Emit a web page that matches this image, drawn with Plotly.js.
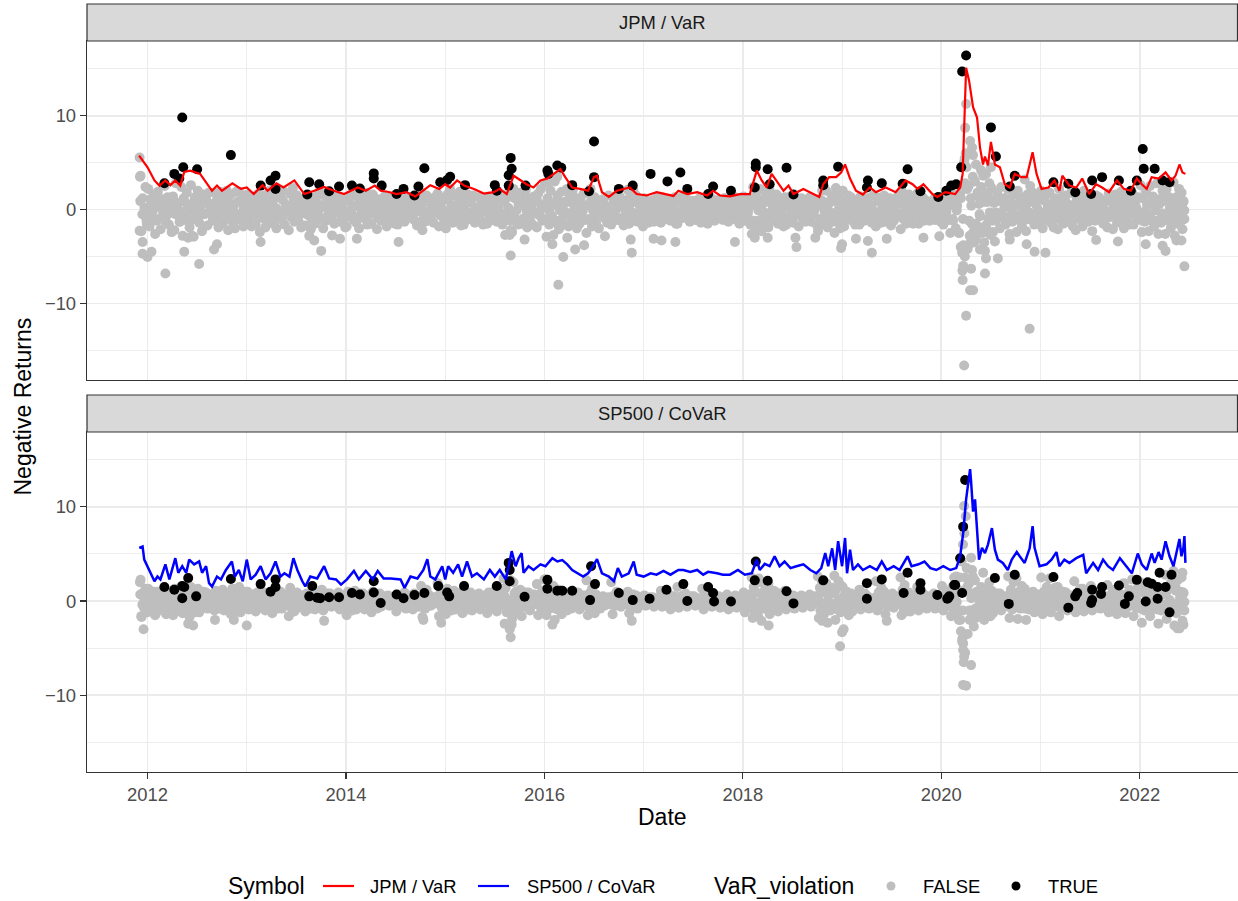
<!DOCTYPE html>
<html><head><meta charset="utf-8">
<script src="https://cdn.plot.ly/plotly-3.0.1.min.js"></script>
<style>html,body{margin:0;padding:0;background:#fff}#chart{width:1238px;height:901px}</style>
</head><body><div id="chart"></div>
<script>
// ---------- DATA ----------
const panelTitles = ["JPM / VaR", "SP500 / CoVaR"];
const xTickYears = [2012, 2014, 2016, 2018, 2020, 2022];
const yTickVals = [-10, 0, 10];
const firstMonthStart = 2011 + 11/12;   // December 2011
const lastMonthFraction = 0.45;         // data ends mid June 2022

// JPM negative returns, non-violations, grouped by month (Dec 2011 ... Jun 2022)
const jpmGreyByMonth = [
[3.5,-2.3,1.2,-0.6,2.4,-1.5],
[2.2,-1.8,0.6,-0.9,1.5,-2.6],[-1.2,1.9,0.3,-2.1,1.1,-0.4],[2.5,-0.7,1.3,-1.6,0.2,-2.4],[1.4,-2.2,2.8,-0.3,0.7,-1.3],[2.4,-2.8,0.9,-1.1,1.8,-0.2],[-1.9,2.6,0.1,-2.9,1.3,-0.8],[2.0,-1.4,0.5,-2.3,1.6,-0.5],[1.1,-1.7,1.8,-0.2,0.6,-1.0],[1.8,-0.9,0.3,-1.9,1.9,-0.4],[-1.5,1.2,-0.3,2.0,-2.2,0.7],[1.6,-1.3,0.4,-2.0,1.9,-0.6],[1.9,-1.1,0.9,-1.8,0.1,1.4],
[1.6,-1.0,0.5,-1.8,1.2,-0.3],[-1.6,1.6,0.2,-2.4,1.0,-0.7],[1.5,-1.9,0.6,-0.4,2.0,-1.2],[1.8,-1.5,0.1,-2.0,1.3,-0.6],[1.4,-0.9,2.0,-1.6,0.4,-0.1],[-2.2,1.7,-0.5,2.3,-1.3,0.6],[1.5,-1.2,0.3,-1.9,1.0,-0.4],[-1.7,1.4,-0.6,0.9,-2.1,0.2],[1.3,-1.5,0.7,-0.2,1.9,-1.0],[1.6,-2.0,0.4,-1.2,1.8,-0.5],[1.2,-0.8,0.2,-1.5,1.4,-0.3],[1.3,-1.3,0.6,-0.4,1.0,-1.9],
[-1.8,1.1,-0.5,1.6,0.2,-1.1],[1.5,-1.4,0.4,-2.0,0.9,-0.3],[1.3,-0.9,1.8,-1.6,0.1,-0.5],[-1.5,1.6,-0.2,0.8,-2.1,0.4],[1.1,-1.2,0.3,-0.6,1.5,-1.8],[0.9,-1.0,1.4,-0.3,0.5,-1.5],[1.2,-1.6,0.2,-0.8,1.3,-0.4],[-1.3,1.0,-0.1,1.2,-0.7,0.6],[1.4,-1.1,0.5,-1.7,0.9,-0.2],[1.8,-2.2,0.8,-1.3,1.5,-0.6],[1.0,-0.9,0.3,-1.4,1.3,-0.2],[1.7,-1.8,0.6,-0.7,1.2,-1.2],
[-2.0,1.6,-0.8,2.2,0.3,-1.4],[1.5,-1.2,0.4,-0.5,1.9,-1.7],[1.2,-1.6,0.7,-0.3,1.6,-1.0],[1.0,-0.8,1.5,-1.4,0.2,-0.4],[1.3,-1.1,0.5,-1.6,0.9,-0.2],[-1.5,1.4,-0.4,0.8,-1.1,0.3],[1.1,-1.3,0.2,-0.7,1.5,-1.6],[1.5,-2.7,1.2,-1.0,2.0,-2.2],[-2.4,2.2,-0.9,1.4,-1.6,0.6],[1.8,-1.5,0.6,-0.9,2.1,-1.9],[1.2,-1.0,0.4,-1.6,1.4,-0.3],[-1.9,1.7,-0.6,2.2,-1.2,0.5],
[2.8,-2.9,1.1,-1.6,2.0,-0.7],[-2.7,3.0,-1.4,1.5,-2.1,0.4],[1.9,-1.6,0.8,-0.5,2.2,-1.8],[1.5,-1.3,2.0,-0.6,0.5,-2.0],[1.2,-1.5,0.3,-0.8,1.7,-1.1],[-2.5,1.8,-1.0,2.2,-1.8,0.4],[1.3,-1.4,0.6,-2.0,1.0,-0.3],[1.1,-0.9,0.4,-1.4,1.5,-0.5],[-1.6,1.3,-0.5,1.4,-1.1,0.3],[1.4,-1.2,0.8,-1.7,0.5,-0.2],[2.1,-1.5,1.6,-0.6,2.1,-1.0],[1.5,-1.3,0.6,-0.5,1.1,-1.8],
[1.2,-1.0,0.4,-1.4,0.8,-0.2],[1.0,-1.3,0.5,-0.6,1.4,-0.9],[-1.4,1.3,-0.3,0.8,-1.0,0.2],[1.1,-1.2,0.3,-0.7,1.3,-1.5],[-1.5,1.0,-0.4,1.3,-0.9,0.5],[1.3,-0.8,0.6,-1.3,0.9,-0.3],[0.9,-1.1,0.3,-0.5,1.2,-1.4],[-1.2,1.1,-0.6,0.7,-1.5,0.2],[1.3,-1.0,0.5,-1.2,1.0,-0.3],[1.0,-0.9,0.2,-1.1,1.2,-0.5],[1.2,-1.3,0.6,-0.4,0.9,-0.8],[1.3,-1.1,0.4,-1.5,1.1,-0.2],
[1.4,-1.2,0.7,-0.5,1.2,-1.6],[-2.6,2.4,-1.3,1.5,-2.0,0.6],[2.2,-2.3,1.0,-1.4,1.8,-0.7],[-1.9,2.0,-0.7,1.3,-1.2,0.4],[1.6,-1.5,0.5,-0.9,1.2,-1.8],[1.3,-1.6,0.4,-0.7,1.4,-1.1],[-1.4,1.3,-0.3,0.8,-1.8,0.3],[1.2,-1.0,0.5,-1.3,0.9,-0.4],[1.3,-1.3,0.6,-0.5,1.1,-1.6],[-2.3,1.1,-1.0,2.0,-1.6,0.5],[2.0,-1.9,0.8,-0.9,1.5,-1.3],[-2.5,2.3,-1.2,1.6,-2.0,0.6],
[2.0,-1.8,0.7,-1.0,1.5,-0.4],[1.3,-1.2,0.4,-1.6,1.0,-0.3],[-1.6,1.4,-0.5,0.9,-1.2,0.3],[1.2,-1.0,0.5,-1.4,1.5,-0.4],[-1.8,1.3,-0.7,1.0,-1.4,0.2],[1.5,-1.3,0.6,-0.6,1.2,-1.7],[1.1,-1.2,0.3,-0.8,1.4,-0.5],[-2.1,1.9,-1.0,1.3,-1.5,0.4],[1.6,-1.1,0.6,-1.5,1.0,-0.3],[1.7,-1.5,0.5,-0.9,1.3,-1.2],[1.0,-0.9,0.3,-1.2,0.8,-0.2],[1.1,-1.1,0.5,-0.5,0.9,-1.3],
[1.3,-1.6,0.4,-0.8,1.0,-1.1],[-2.5,1.8,-1.2,1.0,-2.0,0.4],[1.5,-2.5,1.2,-4.0,2.0,-6.5,-3.8,5.0,-5.0,6.0],[4.5,-4.2,2.5,-2.8,1.2,-1.5,3.5,-3.5],[3.0,-3.2,1.5,-1.8,0.6,-0.7,2.4,-2.5],[3.6,-3.5,1.8,-2.0,0.8,-1.0,2.8,-2.7],[2.3,-2.4,1.0,-1.2,1.8,-0.4],[-2.0,2.4,-0.9,1.2,-1.6,0.5],[2.1,-2.6,0.8,-1.3,1.6,-0.6],[-2.4,2.0,-1.0,1.3,-1.8,0.4],[3.2,-2.3,1.6,-1.0,2.5,-0.5],[1.8,-1.6,0.6,-0.8,1.3,-1.3],
[2.0,-2.0,1.0,-1.1,1.6,-0.4],[1.8,-1.4,0.6,-1.9,1.2,-0.5],[-2.1,2.2,-0.9,1.3,-1.5,0.4],[1.5,-1.3,0.5,-0.7,1.9,-1.8],[1.7,-2.2,0.6,-1.0,1.2,-0.3],[-1.8,2.0,-0.6,1.1,-1.3,0.3],[1.5,-2.3,0.7,-1.2,1.5,-0.5],[1.3,-1.1,0.4,-1.5,0.9,-0.2],[-1.9,1.7,-0.8,1.0,-2.1,0.3],[1.6,-1.4,0.6,-0.6,1.9,-1.1],[-2.0,1.5,-0.9,1.1,-1.6,0.4],[1.8,-1.6,0.7,-1.0,1.3,-0.4],
[2.6,-2.4,1.2,-1.3,1.9,-0.5],[-2.3,2.5,-1.0,1.4,-1.8,0.6],[2.8,-2.6,1.1,-1.4,2.0,-0.6],[-2.6,2.2,-1.2,1.3,-2.0,0.5],[2.9,-2.8,1.3,-1.5,2.2,-0.7],[1.8,-2.1,0.8,-1.0]
];
// JPM dense centre of the daily cloud, by month
const jpmGreyCoreByMonth = [
[0.9,-0.5,0.2,-1.2],
[-0.8,1.1,-0.2,0.5],[0.4,-1.0,0.9,-0.1],[-1.2,0.6,-0.4,1.0],[0.8,-0.5,0.1,-1.3],[-0.7,1.2,-0.1,0.4],[0.3,-1.1,0.9,-0.2],[-1.0,0.6,-0.3,1.1],[0.7,-0.4,0.2,-1.2],[-0.6,1.0,-0.2,0.5],[0.4,-0.9,1.1,-0.1],[-1.1,0.5,-0.4,0.8],[0.9,-0.6,0.1,-1.0],
[-0.7,0.9,-0.2,0.4],[0.3,-0.9,0.8,-0.1],[-1.0,0.5,-0.3,0.9],[0.7,-0.4,0.1,-1.0],[-0.6,1.0,-0.2,0.4],[0.3,-0.8,0.9,-0.1],[-0.9,0.6,-0.3,1.0],[0.6,-0.4,0.2,-1.0],[-0.5,0.9,-0.1,0.4],[0.3,-0.9,1.0,-0.2],[-0.9,0.5,-0.3,0.8],[0.8,-0.5,0.1,-0.9],
[-0.7,0.9,-0.2,0.4],[0.4,-0.8,0.8,-0.1],[-0.9,0.5,-0.3,0.9],[0.7,-0.4,0.1,-0.9],[-0.6,0.9,-0.2,0.4],[0.3,-0.8,0.8,-0.1],[-0.8,0.5,-0.3,0.9],[0.6,-0.4,0.2,-0.9],[-0.5,0.8,-0.1,0.4],[0.3,-1.0,1.0,-0.2],[-0.8,0.5,-0.3,0.8],[0.9,-0.6,0.1,-1.0],
[-0.8,1.0,-0.2,0.4],[0.4,-0.9,0.8,-0.1],[-0.9,0.5,-0.3,0.9],[0.7,-0.4,0.1,-0.9],[-0.6,0.9,-0.2,0.4],[0.3,-0.8,0.8,-0.1],[-0.8,0.5,-0.3,0.9],[0.8,-0.6,0.2,-1.2],[-0.7,1.2,-0.1,0.5],[0.4,-1.0,1.0,-0.2],[-0.8,0.5,-0.3,0.8],[0.9,-0.6,0.1,-1.0],
[-1.1,1.2,-0.2,0.5],[0.5,-1.2,1.1,-0.1],[-1.0,0.6,-0.3,1.0],[0.8,-0.5,0.1,-1.0],[-0.7,1.0,-0.2,0.4],[0.4,-1.1,0.9,-0.1],[-0.8,0.5,-0.3,0.9],[0.6,-0.4,0.2,-0.9],[-0.5,0.8,-0.1,0.4],[0.3,-0.9,1.0,-0.2],[-1.0,0.6,-0.3,1.1],[0.8,-0.5,0.1,-0.9],
[-0.6,0.8,-0.2,0.3],[0.3,-0.7,0.7,-0.1],[-0.8,0.4,-0.2,0.7],[0.6,-0.3,0.1,-0.8],[-0.5,0.8,-0.1,0.3],[0.3,-0.7,0.7,-0.1],[-0.7,0.4,-0.2,0.8],[0.5,-0.3,0.1,-0.8],[-0.5,0.7,-0.1,0.3],[0.2,-0.7,0.8,-0.1],[-0.7,0.4,-0.2,0.7],[0.7,-0.4,0.1,-0.8],
[-0.7,0.8,-0.2,0.4],[0.5,-1.2,1.1,-0.1],[-1.1,0.6,-0.3,1.0],[0.8,-0.5,0.1,-1.0],[-0.6,0.9,-0.2,0.4],[0.3,-0.8,0.8,-0.1],[-0.8,0.5,-0.3,0.9],[0.6,-0.4,0.2,-0.9],[-0.5,0.8,-0.1,0.4],[0.4,-1.1,0.9,-0.2],[-1.0,0.6,-0.3,1.0],[0.9,-0.6,0.1,-1.2],
[-0.8,0.9,-0.2,0.4],[0.4,-0.8,0.8,-0.1],[-0.9,0.5,-0.3,0.8],[0.7,-0.4,0.1,-0.9],[-0.6,0.9,-0.2,0.4],[0.3,-0.8,0.8,-0.1],[-0.8,0.5,-0.3,0.8],[0.7,-0.5,0.2,-1.0],[-0.5,0.8,-0.1,0.4],[0.3,-0.8,0.9,-0.2],[-0.7,0.4,-0.2,0.7],[0.7,-0.4,0.1,-0.8],
[-0.8,0.9,-0.2,0.4],[0.5,-1.0,0.9,-0.1],[-2.5,1.2,-1.0,2.8],[2.2,-1.2,0.4,-2.4],[-1.5,1.8,-0.5,0.9],[0.8,-1.7,1.6,-0.3],[-1.2,0.7,-0.3,1.1],[0.9,-0.6,0.2,-1.2],[-0.8,1.1,-0.2,0.5],[0.4,-1.1,1.0,-0.2],[-1.1,0.6,-0.3,1.2],[0.9,-0.6,0.1,-1.1],
[-0.8,1.0,-0.2,0.4],[0.4,-0.9,0.9,-0.1],[-1.0,0.5,-0.3,0.9],[0.7,-0.4,0.1,-1.0],[-0.6,1.0,-0.2,0.4],[0.3,-0.9,0.9,-0.1],[-0.9,0.6,-0.3,1.0],[0.6,-0.4,0.2,-1.0],[-0.5,0.9,-0.1,0.4],[0.3,-0.9,1.0,-0.2],[-0.9,0.5,-0.3,0.8],[0.8,-0.5,0.1,-0.9],
[-1.1,1.2,-0.2,0.5],[0.5,-1.2,1.1,-0.1],[-1.2,0.6,-0.4,1.2],[0.9,-0.5,0.1,-1.3],[-0.8,1.2,-0.2,0.5],[0.4,-1.1,0.9,-0.1]
];
// JPM outlying non-violations [year, value]
const jpmGreyOutliers = [
[2011.92,5.55],[2011.93,3.6],[2011.92,-2.25],[2011.95,-3.45],[2011.95,-4.7],[2012.0,-5.05],[2012.04,-4.5],[2012.18,-6.8],[2012.37,-4.5],[2012.52,-5.8],[2012.67,-4.25],[2012.70,-3.7],[2013.14,-3.45],[2012.41,-3.0],[2012.45,-2.8],[2013.63,-2.8],[2013.68,-3.3],[2013.75,-4.4],[2013.86,-2.75],[2013.94,-3.1],[2014.11,-3.1],[2014.53,-3.45],[2015.66,-4.9],[2015.65,-2.7],[2015.80,-3.2],[2016.08,-3.7],[2016.14,-8.0],[2016.19,-5.05],[2016.23,-3.0],[2016.31,-4.25],[2016.40,-3.8],[2016.61,-2.85],[2016.87,-3.2],[2016.88,-4.6],[2017.10,-3.1],[2017.18,-3.3],[2017.32,-3.45],[2017.92,-3.45],[2018.12,-3.0],[2018.25,-3.0],[2018.53,-3.0],[2018.54,-4.0],[2018.73,-3.0],[2019.00,-3.7],[2018.99,-4.1],[2019.14,-3.1],[2019.26,-3.35],[2019.30,-4.6],[2019.45,-3.1],[2019.82,-3.0],[2019.98,-2.85],[2020.21,-4.6],[2020.22,-6.0],[2020.215,-7.5],[2020.25,-11.3],[2020.23,-16.6],[2020.30,-6.3],[2020.29,-8.6],[2020.32,-8.6],[2020.28,-3.7],[2020.39,-4.25],[2020.44,-4.4],[2020.45,-5.2],[2020.44,-6.8],[2020.57,-5.2],[2020.54,-3.4],[2020.69,-3.2],[2020.89,-12.7],[2020.94,-4.5],[2021.05,-4.6],[2020.86,-3.7],[2021.56,-3.25],[2021.78,-3.4],[2022.06,-3.7],[2022.23,-3.85],[2022.26,-4.4],[2022.37,-3.3],[2022.42,-3.3],[2022.45,-6.05],[2020.25,11.25],[2020.24,8.7],[2020.29,7.3],[2020.31,6.6],[2020.32,5.8],[2020.235,5.4],[2020.35,4.8],[2020.40,4.2],[2020.45,3.8],[2020.50,4.5],[2016.06,3.0],[2016.13,3.5]
];
// JPM VaR violations [year, value]
const jpmViolations = [
[2012.17,2.8],[2012.27,3.8],[2012.36,4.5],[2012.32,3.3],[2012.35,9.8],[2012.50,4.3],[2012.84,5.8],[2013.14,2.55],[2013.24,3.1],[2013.29,3.6],[2013.29,2.2],[2013.63,2.9],[2013.61,1.6],[2013.73,2.7],[2013.83,1.95],[2013.93,2.45],[2014.06,2.55],[2014.14,2.25],[2014.28,3.85],[2014.28,3.3],[2014.36,2.55],[2014.51,1.65],[2014.58,2.2],[2014.69,1.5],[2014.73,2.45],[2014.79,4.4],[2014.95,2.9],[2015.02,3.15],[2015.05,3.5],[2015.20,2.6],[2015.50,2.6],[2015.52,2.0],[2015.66,5.5],[2015.67,4.35],[2015.64,3.65],[2015.64,2.55],[2015.81,2.55],[2016.03,4.15],[2016.04,3.8],[2016.13,4.7],[2016.17,4.45],[2016.28,2.6],[2016.45,1.95],[2016.50,7.25],[2016.50,3.45],[2016.75,2.2],[2016.89,2.55],[2017.07,3.8],[2017.24,3.0],[2017.37,3.95],[2017.44,2.2],[2017.65,1.65],[2017.70,2.45],[2017.88,2.0],[2018.13,4.9],[2018.13,4.5],[2018.12,2.35],[2018.25,4.3],[2018.27,2.7],[2018.44,4.45],[2018.51,1.6],[2018.81,3.1],[2018.81,2.6],[2018.96,4.55],[2019.26,3.1],[2019.25,2.35],[2019.40,2.8],[2019.61,2.75],[2019.66,4.3],[2019.79,1.95],[2019.97,1.35],[2020.05,2.0],[2020.10,2.55],[2020.15,2.7],[2020.20,4.5],[2020.21,14.7],[2020.25,16.4],[2020.50,8.75],[2020.55,5.65],[2020.69,2.45],[2020.74,3.6],[2021.13,2.9],[2021.28,2.75],[2021.35,1.85],[2021.52,3.1],[2021.51,1.65],[2021.62,3.45],[2021.79,3.1],[2021.91,2.0],[2021.97,3.1],[2022.03,6.45],[2022.04,4.35],[2022.15,4.35],[2022.23,3.1],[2022.30,2.9]
];
// JPM VaR line [year, value]
const jpmVarLine = [
[2011.915,5.74],[2011.95,5.2],[2012.0,4.5],[2012.07,3.1],[2012.12,2.55],[2012.18,3.1],[2012.23,2.6],[2012.28,3.1],[2012.33,2.55],[2012.37,4.0],[2012.43,4.15],[2012.53,3.8],[2012.60,2.7],[2012.65,2.0],[2012.70,2.55],[2012.75,2.0],[2012.855,2.8],[2012.94,2.2],[2013.0,2.35],[2013.07,1.65],[2013.16,2.6],[2013.21,2.0],[2013.30,2.8],[2013.37,2.35],[2013.48,3.1],[2013.58,1.65],[2013.68,2.0],[2013.78,2.4],[2013.88,2.0],[2013.98,1.65],[2014.05,2.0],[2014.12,2.35],[2014.20,2.0],[2014.29,2.55],[2014.35,2.0],[2014.42,1.9],[2014.51,1.65],[2014.61,1.85],[2014.70,1.4],[2014.78,2.0],[2014.85,2.6],[2014.94,2.2],[2015.00,2.7],[2015.05,2.35],[2015.12,3.1],[2015.19,2.55],[2015.29,2.2],[2015.39,1.7],[2015.49,1.85],[2015.55,2.2],[2015.62,1.65],[2015.69,3.6],[2015.76,3.1],[2015.82,2.7],[2015.89,2.35],[2015.96,3.1],[2016.03,3.3],[2016.09,3.8],[2016.16,4.3],[2016.21,3.45],[2016.28,2.35],[2016.36,2.2],[2016.44,2.0],[2016.50,3.45],[2016.53,3.6],[2016.58,1.85],[2016.65,1.35],[2016.73,2.0],[2016.80,2.2],[2016.86,2.35],[2016.93,1.65],[2017.03,1.5],[2017.13,1.85],[2017.23,1.65],[2017.30,1.45],[2017.35,2.0],[2017.44,1.65],[2017.54,1.85],[2017.64,1.5],[2017.70,2.0],[2017.77,1.5],[2017.87,1.4],[2017.97,1.65],[2018.07,1.65],[2018.14,4.15],[2018.19,3.1],[2018.24,2.35],[2018.29,3.8],[2018.34,3.1],[2018.41,2.0],[2018.46,2.55],[2018.51,1.65],[2018.61,2.2],[2018.71,1.65],[2018.77,1.35],[2018.81,2.7],[2018.87,3.45],[2018.94,3.45],[2018.99,3.95],[2019.03,4.8],[2019.08,3.3],[2019.14,2.0],[2019.21,1.6],[2019.28,2.35],[2019.34,1.85],[2019.44,2.35],[2019.54,1.85],[2019.64,3.1],[2019.71,2.7],[2019.76,2.2],[2019.82,2.7],[2019.91,1.65],[2019.96,1.35],[2020.04,1.85],[2020.14,1.65],[2020.19,2.35],[2020.215,3.8],[2020.25,15.1],[2020.28,13.7],[2020.32,10.9],[2020.36,9.8],[2020.39,6.6],[2020.42,4.8],[2020.44,5.65],[2020.47,4.7],[2020.50,7.2],[2020.54,4.8],[2020.59,4.5],[2020.64,2.7],[2020.69,2.35],[2020.74,3.8],[2020.81,3.45],[2020.86,3.45],[2020.92,6.1],[2020.96,3.8],[2021.01,2.2],[2021.08,2.35],[2021.14,3.1],[2021.19,2.0],[2021.22,3.6],[2021.29,2.55],[2021.36,2.35],[2021.42,3.3],[2021.49,1.65],[2021.56,2.7],[2021.62,2.35],[2021.69,1.85],[2021.77,3.1],[2021.84,2.2],[2021.91,2.0],[2021.97,3.3],[2022.02,2.7],[2022.07,2.2],[2022.12,3.45],[2022.19,3.3],[2022.26,3.95],[2022.32,3.1],[2022.36,3.6],[2022.40,4.8],[2022.43,3.95],[2022.46,3.8]
];

// SP500 negative returns, non-violation days, grouped by month
const spGreyByMonth = [
[2.0,-1.6,0.8,-0.7,1.3,-1.2],
[1.3,-1.1,0.5,-0.4,1.0,-1.5],[-1.2,1.0,-0.3,0.6,-0.8,0.2],[1.1,-1.4,0.4,-0.6,0.9,-0.1],[-1.5,1.3,-0.6,0.8,-1.0,0.3],[1.6,-1.3,0.7,-0.8,1.1,-0.3],[-1.7,1.5,-0.5,0.9,-1.2,0.4],[1.3,-1.2,0.4,-0.6,1.0,-0.2],[0.9,-0.8,0.3,-0.5,0.7,-0.1],[-1.0,1.1,-0.3,0.5,-0.8,0.2],[1.2,-1.0,0.4,-0.7,0.8,-0.3],[-1.4,1.3,-0.5,0.6,-1.1,0.3],[1.5,-1.2,0.6,-0.4,1.0,-0.8],
[1.0,-0.9,0.4,-0.3,0.7,-0.6],[-1.1,0.9,-0.4,0.5,-0.7,0.1],[0.9,-1.0,0.3,-0.4,0.6,-0.2],[-1.3,1.1,-0.5,0.6,-0.8,0.2],[1.0,-0.8,0.4,-0.5,0.7,-0.2],[-1.6,1.4,-0.7,0.8,-1.1,0.3],[0.9,-0.7,0.3,-0.4,0.6,-0.1],[-1.1,0.8,-0.5,0.4,-0.8,0.2],[0.9,-0.9,0.3,-0.5,0.7,-0.2],[1.2,-1.0,0.4,-0.6,0.8,-0.3],[0.8,-0.6,0.3,-0.4,0.5,-0.1],[0.9,-0.9,0.4,-0.3,0.6,-0.6],
[-1.5,1.0,-0.6,0.6,-1.0,0.2],[1.1,-0.9,0.4,-0.4,0.8,-0.2],[0.8,-0.9,0.3,-0.5,0.6,-0.2],[-1.2,1.0,-0.4,0.5,-0.8,0.2],[0.8,-0.6,0.3,-0.3,0.5,-0.1],[0.6,-0.5,0.2,-0.3,0.4,-0.1],[-1.1,0.7,-0.4,0.4,-0.6,0.1],[0.9,-0.8,0.3,-0.4,0.6,-0.2],[-0.9,0.8,-0.3,0.5,-0.6,0.2],[1.6,-1.7,0.7,-0.8,1.2,-0.4],[0.6,-0.5,0.2,-0.3,0.4,-0.1],[1.9,-1.6,0.8,-0.7,1.2,-0.3],
[-1.4,1.3,-0.6,0.7,-1.0,0.2],[1.1,-0.9,0.4,-0.5,0.8,-0.2],[-1.3,1.2,-0.5,0.6,-0.9,0.2],[0.9,-1.0,0.4,-0.4,0.6,-0.1],[0.8,-0.9,0.3,-0.3,0.6,-0.2],[-1.3,0.9,-0.5,0.4,-0.8,0.2],[1.2,-1.1,0.4,-0.5,0.8,-0.2],[2.4,-2.4,1.4,-1.2,2.0,-0.6,-3.0,2.2],[-1.9,2.0,-0.8,1.0,-1.3,0.4],[1.2,-1.6,0.5,-0.6,0.9,-0.2],[0.9,-1.0,0.4,-0.4,0.7,-0.2],[1.8,-1.5,0.7,-0.7,1.1,-0.3],
[2.3,-1.5,1.2,-0.8,1.7,-0.3],[1.6,-2.0,0.7,-0.9,1.2,-0.3],[-1.4,1.0,-0.6,0.5,-1.0,0.2],[0.9,-0.8,0.3,-0.4,0.6,-0.1],[0.9,-0.9,0.4,-0.3,0.6,-0.5],[2.2,-1.5,0.8,-0.7,1.3,-0.2],[-1.3,0.7,-0.5,0.3,-0.8,0.1],[0.5,-0.5,0.2,-0.2,0.4,-0.1],[2.0,-1.4,0.6,-0.5,1.0,-0.2],[0.7,-0.6,0.3,-0.3,0.5,-0.1],[1.0,-1.3,0.4,-0.5,0.7,-0.2],[0.6,-0.8,0.3,-0.3,0.4,-0.1],
[0.6,-0.5,0.2,-0.3,0.4,-0.1],[0.4,-0.6,0.2,-0.2,0.3,-0.1],[1.1,-0.6,0.4,-0.3,0.5,-0.1],[0.7,-0.9,0.3,-0.3,0.5,-0.1],[1.5,-0.7,0.4,-0.3,0.6,-0.1],[0.8,-0.6,0.3,-0.3,0.5,-0.1],[0.5,-0.5,0.2,-0.2,0.3,-0.1],[1.3,-0.9,0.5,-0.4,0.7,-0.1],[0.4,-0.6,0.2,-0.2,0.3,-0.1],[0.5,-0.7,0.2,-0.2,0.4,-0.1],[0.7,-0.9,0.3,-0.3,0.4,-0.1],[0.6,-0.7,0.3,-0.2,0.4,-0.1],
[0.9,-1.2,0.4,-0.5,0.7,-0.2],[2.5,-1.8,1.5,-1.0,2.2,-0.4,-1.5,2.4],[2.0,-2.1,0.9,-0.8,1.4,-0.3],[1.8,-1.4,0.7,-0.7,1.1,-0.2],[0.9,-1.1,0.4,-0.4,0.6,-0.1],[1.1,-0.9,0.4,-0.3,0.6,-0.1],[0.6,-0.8,0.3,-0.3,0.4,-0.1],[0.6,-0.7,0.2,-0.3,0.4,-0.1],[0.7,-0.6,0.3,-0.2,0.5,-0.1],[2.6,-1.8,1.4,-0.9,2.1,-0.3,-1.4,1.0],[1.9,-2.3,0.8,-1.0,1.4,-0.3],[2.7,-2.0,1.3,-0.9,2.1,-0.4,-1.2,1.6],
[1.5,-3.0,0.6,-1.0,1.0,-0.4,-1.5,0.2],[0.8,-1.1,0.3,-0.4,0.5,-0.1],[1.2,-0.9,0.4,-0.4,0.8,-0.1],[0.5,-0.8,0.2,-0.3,0.3,-0.1],[2.1,-1.0,0.9,-0.5,1.4,-0.2],[1.0,-1.4,0.4,-0.6,0.6,-0.2],[0.8,-0.7,0.3,-0.3,0.5,-0.1],[2.5,-1.5,1.2,-0.8,1.7,-0.3,-1.1,0.6],[0.9,-1.1,0.3,-0.4,0.6,-0.1],[1.5,-1.0,0.5,-0.4,0.8,-0.2],[0.6,-0.8,0.2,-0.3,0.4,-0.1],[0.8,-0.8,0.3,-0.3,0.5,-0.1],
[1.6,-1.0,0.6,-0.4,1.0,-0.2],[0.9,-1.6,1.5,-0.6,2.5,-0.3,2.6,-1.1],[1.2,-1.0,2.5,-2.0,-3.2,4.2,-4.0,6.0,-6.5,7.2,-5.5,9.0],[3.5,-3.5,1.8,-2.0,0.8,-1.0,2.6,-2.7],[2.2,-1.8,1.0,-1.0,0.5,-0.4,1.5,-1.4],[3.0,-2.0,1.3,-1.0,0.5,-0.5,2.0,-1.6],[1.1,-1.3,0.4,-0.6,0.8,-0.2],[0.8,-1.0,0.3,-0.4,0.5,-0.1],[2.6,-1.8,1.2,-0.9,2.0,-0.3],[2.4,-1.9,1.0,-0.8,1.6,-0.3],[1.3,-2.0,0.5,-0.9,0.8,-0.3],[1.0,-1.2,0.4,-0.5,0.7,-0.2],
[2.5,-1.4,1.0,-0.6,1.5,-0.2],[2.4,-1.2,0.9,-0.6,1.4,-0.3],[1.5,-1.6,0.6,-0.7,1.0,-0.2],[0.9,-1.0,0.3,-0.4,0.6,-0.1],[2.1,-1.2,0.8,-0.5,1.3,-0.2],[1.3,-1.1,0.4,-0.5,0.8,-0.1],[1.6,-1.0,0.5,-0.5,0.9,-0.2],[0.7,-0.8,0.3,-0.3,0.5,-0.1],[1.7,-1.2,0.6,-0.6,1.2,-0.2],[1.1,-1.4,0.4,-0.6,0.7,-0.2],[1.9,-1.3,0.7,-0.6,1.2,-0.3],[2.3,-1.6,0.9,-0.7,1.4,-0.3],
[2.0,-2.3,0.9,-1.0,1.5,-0.3],[1.8,-1.6,0.7,-0.8,1.2,-0.3],[1.4,-2.4,0.6,-1.0,1.0,-0.4],[2.8,-1.9,1.2,-0.8,1.9,-0.3],[3.2,-2.6,1.5,-1.3,2.2,-0.5,-2.9,1.0],[2.5,-2.1,0.9,-1.0]
];
// SP500 dense centre of the daily cloud, by month
const spGreyCoreByMonth = [
[0.7,-0.4,0.1,-0.8],
[-0.6,0.7,-0.1,0.3],[0.3,-0.6,0.6,-0.1],[-0.7,0.4,-0.2,0.6],[0.6,-0.3,0.1,-0.8],[-0.5,0.8,-0.1,0.3],[0.2,-0.7,0.6,-0.1],[-0.6,0.4,-0.2,0.7],[0.5,-0.3,0.1,-0.6],[-0.4,0.6,-0.1,0.3],[0.3,-0.6,0.6,-0.1],[-0.7,0.3,-0.2,0.5],[0.6,-0.4,0.1,-0.6],
[-0.4,0.5,-0.1,0.2],[0.2,-0.5,0.5,-0.1],[-0.5,0.3,-0.2,0.5],[0.4,-0.3,0.1,-0.6],[-0.4,0.5,-0.1,0.2],[0.2,-0.6,0.5,-0.1],[-0.4,0.3,-0.2,0.5],[0.4,-0.3,0.1,-0.5],[-0.3,0.5,-0.1,0.2],[0.2,-0.5,0.5,-0.1],[-0.4,0.3,-0.1,0.4],[0.4,-0.3,0.1,-0.5],
[-0.5,0.5,-0.1,0.2],[0.2,-0.5,0.5,-0.1],[-0.5,0.3,-0.2,0.5],[0.4,-0.3,0.1,-0.5],[-0.3,0.4,-0.1,0.2],[0.2,-0.3,0.3,-0.1],[-0.4,0.3,-0.1,0.4],[0.4,-0.3,0.1,-0.5],[-0.3,0.5,-0.1,0.2],[0.3,-0.7,0.6,-0.1],[-0.3,0.3,-0.1,0.3],[0.5,-0.4,0.1,-0.6],
[-0.6,0.6,-0.1,0.3],[0.2,-0.5,0.5,-0.1],[-0.5,0.3,-0.2,0.5],[0.4,-0.3,0.1,-0.5],[-0.3,0.4,-0.1,0.2],[0.2,-0.5,0.4,-0.1],[-0.4,0.3,-0.1,0.5],[0.6,-0.4,0.1,-0.9],[-0.6,0.8,-0.1,0.3],[0.3,-0.6,0.6,-0.1],[-0.4,0.3,-0.1,0.4],[0.5,-0.4,0.1,-0.6],
[-0.7,0.8,-0.1,0.3],[0.3,-0.8,0.7,-0.1],[-0.5,0.3,-0.2,0.5],[0.4,-0.3,0.1,-0.4],[-0.3,0.4,-0.1,0.2],[0.3,-0.6,0.6,-0.1],[-0.3,0.3,-0.1,0.4],[0.2,-0.2,0.1,-0.3],[-0.4,0.5,-0.1,0.2],[0.2,-0.4,0.4,-0.1],[-0.4,0.3,-0.1,0.5],[0.3,-0.3,0.1,-0.4],
[-0.3,0.3,-0.1,0.1],[0.1,-0.3,0.3,-0.1],[-0.3,0.2,-0.1,0.3],[0.3,-0.2,0.1,-0.3],[-0.3,0.4,-0.1,0.1],[0.1,-0.3,0.3,-0.1],[-0.2,0.2,-0.1,0.2],[0.3,-0.3,0.1,-0.4],[-0.2,0.2,-0.1,0.1],[0.1,-0.2,0.2,-0.1],[-0.3,0.2,-0.1,0.3],[0.2,-0.2,0.1,-0.3],
[-0.4,0.4,-0.1,0.2],[0.5,-1.0,0.9,-0.2],[-0.8,0.5,-0.2,0.7],[0.5,-0.4,0.1,-0.6],[-0.3,0.4,-0.1,0.2],[0.2,-0.4,0.4,-0.1],[-0.3,0.2,-0.1,0.3],[0.2,-0.2,0.1,-0.3],[-0.2,0.3,-0.1,0.1],[0.5,-1.0,0.9,-0.2],[-0.9,0.6,-0.3,0.8],[0.9,-0.7,0.2,-1.0],
[-0.6,0.7,-0.2,0.3],[0.2,-0.4,0.4,-0.1],[-0.4,0.3,-0.1,0.4],[0.2,-0.2,0.1,-0.3],[-0.5,0.6,-0.1,0.2],[0.3,-0.5,0.4,-0.1],[-0.3,0.2,-0.1,0.3],[0.5,-0.4,0.1,-0.7],[-0.3,0.4,-0.1,0.2],[0.2,-0.4,0.4,-0.1],[-0.2,0.2,-0.1,0.2],[0.2,-0.2,0.1,-0.3],
[-0.4,0.5,-0.1,0.2],[0.4,-0.8,0.7,-0.1],[-2.0,1.0,-1.0,2.5],[1.5,-1.0,0.3,-1.6],[-0.8,1.0,-0.2,0.4],[0.4,-1.0,0.9,-0.1],[-0.6,0.4,-0.2,0.6],[0.4,-0.3,0.1,-0.5],[-0.6,0.8,-0.1,0.3],[0.3,-0.7,0.7,-0.1],[-0.8,0.4,-0.2,0.7],[0.5,-0.4,0.1,-0.6],
[-0.6,0.6,-0.1,0.3],[0.3,-0.6,0.6,-0.1],[-0.6,0.4,-0.2,0.6],[0.3,-0.3,0.1,-0.4],[-0.4,0.6,-0.1,0.2],[0.2,-0.4,0.4,-0.1],[-0.4,0.3,-0.1,0.5],[0.3,-0.2,0.1,-0.3],[-0.4,0.5,-0.1,0.2],[0.2,-0.5,0.5,-0.1],[-0.5,0.3,-0.1,0.5],[0.5,-0.4,0.1,-0.6],
[-0.8,0.9,-0.2,0.4],[0.4,-0.9,0.8,-0.1],[-0.9,0.5,-0.3,0.9],[0.7,-0.4,0.1,-1.0],[-0.8,1.1,-0.2,0.4],[0.4,-0.9,0.8,-0.1]
];
const spGreyOutliers = [
[2011.93,2.25],[2011.96,-3.0],[2011.94,-1.7],[2012.41,-2.4],[2012.46,-2.6],[2012.68,-2.0],[2012.87,-2.0],[2013.00,-2.6],[2013.78,-2.1],[2014.78,-2.0],[2014.96,-2.3],[2015.66,-3.85],[2015.67,-2.5],[2016.00,2.3],[2016.08,-2.5],[2016.88,-2.1],[2018.26,-2.6],[2019.00,-3.3],[2018.98,-4.8],[2018.80,-2.1],[2019.45,-2.1],[2020.22,-4.5],[2020.23,-5.9],[2020.22,-8.9],[2020.25,-9.0],[2020.23,10.1],[2020.21,-4.3],[2020.22,-5.2],[2020.30,-6.8],[2020.30,4.6],[2020.31,3.3],[2020.30,-1.8],[2022.38,-2.9],[2022.44,-2.5],[2022.43,3.0]
];
const spViolations = [
[2012.17,1.5],[2012.27,1.2],[2012.35,1.6],[2012.37,1.5],[2012.41,2.45],[2012.35,0.3],[2012.49,0.5],[2012.84,2.35],[2013.14,1.8],[2013.24,1.0],[2013.29,1.5],[2013.29,2.3],[2013.63,0.5],[2013.66,1.6],[2013.71,0.35],[2013.74,0.3],[2013.83,0.4],[2013.93,0.4],[2014.06,0.85],[2014.14,0.7],[2014.28,0.9],[2014.28,2.1],[2014.35,-0.2],[2014.51,0.7],[2014.58,0.3],[2014.69,0.65],[2014.79,0.85],[2014.93,1.6],[2015.02,0.9],[2015.04,0.5],[2015.19,1.6],[2015.52,1.6],[2015.64,4.05],[2015.65,3.3],[2015.65,2.1],[2015.80,0.45],[2016.03,2.25],[2016.03,1.3],[2016.13,1.1],[2016.18,1.1],[2016.28,1.1],[2016.47,3.7],[2016.51,1.8],[2016.46,0.1],[2016.75,0.85],[2016.89,0.1],[2017.06,0.25],[2017.23,1.2],[2017.40,1.8],[2017.44,0.0],[2017.65,1.5],[2017.70,0.85],[2017.71,-0.05],[2017.88,-0.05],[2018.13,4.2],[2018.12,2.2],[2018.25,2.15],[2018.44,1.05],[2018.51,-0.25],[2018.81,2.2],[2019.25,1.9],[2019.25,0.25],[2019.40,2.3],[2019.62,0.85],[2019.66,3.0],[2019.79,1.9],[2019.79,1.2],[2019.96,0.65],[2020.06,0.25],[2020.08,0.5],[2020.14,1.7],[2020.21,0.85],[2020.19,4.55],[2020.22,7.9],[2020.24,12.85],[2020.07,0.35],[2020.13,1.7],[2020.54,2.45],[2020.68,-0.3],[2020.74,2.8],[2021.13,2.55],[2021.28,-0.7],[2021.35,0.5],[2021.37,0.85],[2021.52,1.2],[2021.51,-0.2],[2021.52,0.1],[2021.62,1.5],[2021.61,0.75],[2021.79,1.65],[2021.85,-0.3],[2021.89,0.5],[2021.97,2.25],[2022.08,2.0],[2022.12,1.85],[2022.06,-0.05],[2022.18,1.5],[2022.18,0.25],[2022.20,3.0],[2022.26,1.5],[2022.30,-1.2],[2022.32,2.8]
];
const spCoVarLine = [
[2011.916,5.65],[2011.95,5.8],[2011.967,4.4],[2012.0,3.7],[2012.03,3.0],[2012.07,2.1],[2012.10,2.6],[2012.13,2.3],[2012.18,3.9],[2012.22,2.3],[2012.28,4.55],[2012.31,3.0],[2012.35,3.7],[2012.39,3.0],[2012.42,4.4],[2012.47,3.9],[2012.52,4.2],[2012.55,3.0],[2012.59,3.7],[2012.62,1.9],[2012.65,1.55],[2012.70,2.6],[2012.74,2.3],[2012.79,3.3],[2012.85,4.2],[2012.88,2.6],[2012.92,3.3],[2012.96,2.1],[2013.0,4.4],[2013.04,2.3],[2013.09,2.8],[2013.14,3.7],[2013.19,2.3],[2013.24,2.95],[2013.29,4.2],[2013.34,2.6],[2013.38,2.95],[2013.43,2.6],[2013.47,4.55],[2013.51,3.3],[2013.56,2.1],[2013.59,1.55],[2013.64,2.6],[2013.71,2.4],[2013.78,3.7],[2013.83,2.4],[2013.90,2.3],[2013.95,1.75],[2014.01,2.3],[2014.08,3.2],[2014.13,2.3],[2014.20,3.2],[2014.27,2.3],[2014.32,3.2],[2014.38,2.4],[2014.45,2.4],[2014.55,2.3],[2014.59,1.4],[2014.65,2.6],[2014.72,2.4],[2014.78,3.3],[2014.82,4.45],[2014.85,2.6],[2014.90,2.3],[2014.97,3.7],[2015.00,2.3],[2015.03,3.7],[2015.08,3.0],[2015.13,3.9],[2015.17,2.6],[2015.22,4.2],[2015.27,2.6],[2015.32,2.95],[2015.39,2.3],[2015.45,3.3],[2015.50,2.6],[2015.55,3.3],[2015.61,2.3],[2015.64,3.7],[2015.67,5.3],[2015.71,3.7],[2015.74,4.55],[2015.77,5.1],[2015.79,3.0],[2015.84,3.7],[2015.89,3.3],[2015.96,3.9],[2016.01,3.7],[2016.08,4.55],[2016.13,4.2],[2016.18,4.35],[2016.23,3.9],[2016.28,3.3],[2016.34,2.95],[2016.39,2.6],[2016.44,2.95],[2016.49,3.7],[2016.53,4.45],[2016.58,2.95],[2016.65,2.6],[2016.70,2.1],[2016.74,3.5],[2016.78,2.6],[2016.85,2.95],[2016.90,4.2],[2016.93,2.8],[2017.00,2.6],[2017.07,2.95],[2017.13,2.8],[2017.20,3.2],[2017.27,2.8],[2017.35,3.3],[2017.40,3.3],[2017.47,3.1],[2017.54,3.3],[2017.60,2.8],[2017.65,3.1],[2017.74,2.95],[2017.80,2.8],[2017.87,2.8],[2017.95,3.3],[2018.02,2.8],[2018.09,2.95],[2018.14,4.4],[2018.17,3.3],[2018.22,3.95],[2018.27,3.7],[2018.32,4.75],[2018.37,3.7],[2018.42,4.2],[2018.48,3.5],[2018.54,3.7],[2018.61,3.9],[2018.68,3.3],[2018.74,2.95],[2018.79,3.5],[2018.83,5.1],[2018.86,3.7],[2018.90,5.6],[2018.93,3.3],[2018.96,6.35],[2019.00,3.7],[2019.03,6.7],[2019.05,2.95],[2019.08,5.45],[2019.11,3.3],[2019.16,3.9],[2019.21,3.3],[2019.28,3.7],[2019.35,3.3],[2019.40,4.2],[2019.45,3.3],[2019.52,3.7],[2019.58,3.3],[2019.66,4.75],[2019.70,3.7],[2019.77,3.9],[2019.83,4.2],[2019.89,3.5],[2019.95,3.3],[2020.02,3.7],[2020.09,3.3],[2020.15,3.5],[2020.19,4.75],[2020.22,7.2],[2020.25,10.8],[2020.29,14.0],[2020.30,12.7],[2020.32,9.5],[2020.34,10.8],[2020.36,7.75],[2020.38,4.4],[2020.41,5.65],[2020.44,5.1],[2020.47,6.0],[2020.51,7.75],[2020.54,5.45],[2020.57,4.4],[2020.62,4.05],[2020.67,3.3],[2020.71,4.4],[2020.76,5.2],[2020.79,4.75],[2020.84,4.05],[2020.89,5.6],[2020.92,7.95],[2020.94,5.65],[2020.99,3.7],[2021.06,3.9],[2021.11,4.4],[2021.16,5.2],[2021.19,3.7],[2021.24,4.4],[2021.29,4.05],[2021.36,4.55],[2021.43,4.9],[2021.46,2.95],[2021.53,4.05],[2021.58,3.3],[2021.63,4.4],[2021.68,3.7],[2021.73,3.3],[2021.80,4.55],[2021.85,3.9],[2021.92,2.95],[2021.98,5.05],[2022.02,3.9],[2022.07,3.3],[2022.12,5.05],[2022.15,4.05],[2022.19,5.2],[2022.22,4.4],[2022.26,6.35],[2022.30,4.75],[2022.34,3.7],[2022.40,6.6],[2022.42,4.75],[2022.44,5.65],[2022.45,6.9],[2022.46,4.05]
];

// ---------- BUILD ----------
const W = 1238, H = 901;
const FONT = "Liberation Sans, Arial, Helvetica, sans-serif";
function monthPoints(groups, p) {
  groups.forEach((vals, i) => {
    const start = firstMonthStart + i / 12;
    const span = (i === groups.length - 1 ? lastMonthFraction : 1) / 12;
    vals.forEach((v, k) => { p.xs.push(start + span * (k + 0.5) / vals.length); p.ys.push(v); });
  });
  return p;
}
function greyCloud(groups, core, extra) {
  const p = { xs: [], ys: [] };
  monthPoints(groups, p);
  monthPoints(core, p);
  extra.forEach(d => { p.xs.push(d[0]); p.ys.push(d[1]); });
  return p;
}
const jg = greyCloud(jpmGreyByMonth, jpmGreyCoreByMonth, jpmGreyOutliers);
const sg = greyCloud(spGreyByMonth, spGreyCoreByMonth, spGreyOutliers);
const col = (arr, i) => arr.map(d => d[i]);
const px = v => v / W, py = v => 1 - v / H;

const MS = 10;
const mk = (c) => ({ color: c, size: MS, line: { width: 0 } });
const traces = [
  { x: jg.xs, y: jg.ys, xaxis: 'x', yaxis: 'y', mode: 'markers', type: 'scatter', marker: mk('#BEBEBE') },
  { x: col(jpmViolations,0), y: col(jpmViolations,1), xaxis: 'x', yaxis: 'y', mode: 'markers', type: 'scatter', marker: mk('#000000') },
  { x: col(jpmVarLine,0), y: col(jpmVarLine,1), xaxis: 'x', yaxis: 'y', mode: 'lines', type: 'scatter', line: { color: '#FF0000', width: 2.2 } },
  { x: sg.xs, y: sg.ys, xaxis: 'x2', yaxis: 'y2', mode: 'markers', type: 'scatter', marker: mk('#BEBEBE') },
  { x: col(spViolations,0), y: col(spViolations,1), xaxis: 'x2', yaxis: 'y2', mode: 'markers', type: 'scatter', marker: mk('#000000') },
  { x: col(spCoVarLine,0), y: col(spCoVarLine,1), xaxis: 'x2', yaxis: 'y2', mode: 'lines', type: 'scatter', line: { color: '#0000FF', width: 2.5 } }
];

const xRange = [2011.39, 2022.985];
const yRange = [-18.15, 17.95];
const xdom = [px(87), px(1237.5)];
const grid = { showgrid: true, gridcolor: '#EBEBEB', gridwidth: 1.8, zeroline: false,
  showline: true, mirror: true, linecolor: '#333333', linewidth: 1.2 };
function xAxis(anchor, labels) {
  return Object.assign({}, grid, {
    domain: xdom, anchor: anchor, range: xRange, tickmode: 'array', tickvals: xTickYears,
    minor: { dtick: 1, tick0: 2011, showgrid: true, gridcolor: '#EBEBEB', gridwidth: 0.9, ticks: '' },
    showticklabels: labels, ticks: labels ? 'outside' : '', ticklen: 6, tickwidth: 1.2, tickcolor: '#333333',
    tickfont: { family: FONT, size: 18.4, color: '#4D4D4D' }, automargin: false
  });
}
function yAxis(anchor, top, bottom) {
  return Object.assign({}, grid, {
    domain: [py(bottom), py(top)], anchor: anchor, range: yRange, tickmode: 'array', tickvals: yTickVals,
    minor: { dtick: 5, tick0: 0, showgrid: true, gridcolor: '#EBEBEB', gridwidth: 0.9, ticks: '' },
    ticks: 'outside', ticklen: 6, tickwidth: 1.2, tickcolor: '#333333',
    tickfont: { family: FONT, size: 18.4, color: '#4D4D4D' }, automargin: false
  });
}

const shapes = [
  { type: 'rect', xref: 'paper', yref: 'paper', x0: px(87), x1: px(1237.5), y0: py(41), y1: py(4), fillcolor: '#D9D9D9', line: { color: '#333333', width: 1.2 } },
  { type: 'rect', xref: 'paper', yref: 'paper', x0: px(87), x1: px(1237.5), y0: py(432), y1: py(395), fillcolor: '#D9D9D9', line: { color: '#333333', width: 1.2 } },
  { type: 'line', xref: 'paper', yref: 'paper', x0: px(323), x1: px(354), y0: py(886), y1: py(886), line: { color: '#FF0000', width: 2.2 } },
  { type: 'line', xref: 'paper', yref: 'paper', x0: px(478), x1: px(509), y0: py(886), y1: py(886), line: { color: '#0000FF', width: 2.2 } },
  { type: 'circle', xref: 'paper', yref: 'paper', x0: px(886.5), x1: px(895.5), y0: py(890.5), y1: py(881.5), fillcolor: '#BEBEBE', line: { width: 0 } },
  { type: 'circle', xref: 'paper', yref: 'paper', x0: px(1011.5), x1: px(1020.5), y0: py(890.5), y1: py(881.5), fillcolor: '#000000', line: { width: 0 } }
];
const ann = (text, x, y, size, extra) => Object.assign({ text: text, xref: 'paper', yref: 'paper', x: px(x), y: py(y), showarrow: false,
  font: { family: FONT, size: size, color: '#000000' }, xanchor: 'left', yanchor: 'middle' }, extra || {});
const annotations = [
  ann(panelTitles[0], 662.5, 22.5, 18.4, { xanchor: 'center', font: { family: FONT, size: 18.4, color: '#1A1A1A' } }),
  ann(panelTitles[1], 662.5, 413.5, 18.4, { xanchor: 'center', font: { family: FONT, size: 18.4, color: '#1A1A1A' } }),
  ann('Date', 662.5, 817, 23, { xanchor: 'center' }),
  ann('Negative Returns', 22, 406.5, 23, { xanchor: 'center', textangle: -90 }),
  ann('Symbol', 226, 886, 23),
  ann('JPM / VaR', 368, 886, 18.4),
  ann('SP500 / CoVaR', 525, 886, 18.4),
  ann('VaR_violation', 712, 886, 23),
  ann('FALSE', 921, 886, 18.4),
  ann('TRUE', 1046, 886, 18.4)
];

const layout = {
  width: W, height: H, margin: { l: 0, r: 0, t: 0, b: 0 }, paper_bgcolor: '#FFFFFF', plot_bgcolor: '#FFFFFF',
  showlegend: false, font: { family: FONT },
  xaxis: xAxis('y', false), yaxis: yAxis('x', 41, 380),
  xaxis2: Object.assign(xAxis('y2', true), { matches: 'x' }), yaxis2: yAxis('x2', 432, 772),
  shapes: shapes, annotations: annotations
};
Plotly.newPlot('chart', traces, layout, { staticPlot: true, displayModeBar: false });
</script></body></html>
